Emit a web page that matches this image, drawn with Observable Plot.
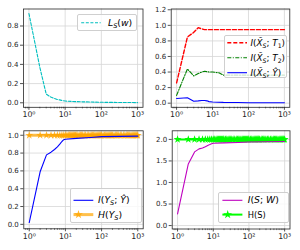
<!DOCTYPE html>
<html><head><meta charset="utf-8">
<script src="https://cdn.jsdelivr.net/npm/d3@7"></script>
<script src="https://cdn.jsdelivr.net/npm/@observablehq/plot@0.6"></script>
<style>
body{margin:0;background:#fff;}
#page{position:relative;width:300px;height:250px;overflow:hidden;font-family:"DejaVu Sans",sans-serif;}
.panel{position:absolute;width:150px;height:125px;}
.leg{position:absolute;box-sizing:border-box;border:0.8px solid #cfcfcf;border-radius:2px;background:rgba(255,255,255,0.8);}
.lt{position:absolute;font-size:9.3px;line-height:10px;white-space:nowrap;color:#000;font-family:"DejaVu Sans",sans-serif;}
.lt sub{font-size:70%;vertical-align:-0.35em;line-height:0}
.lt.plain{font-size:8.3px;}
.lt.small{font-size:8.8px;}
</style></head><body><div id="page"></div>
<script>
// ---- ticks ----
const xTicks = [1, 10, 100, 1000];
const xTickLabels = ["10⁰", "10¹", "10²", "10³"];
const xMinorTicks = [0.8, 0.9, 2, 3, 4, 5, 6, 7, 8, 9, 20, 30, 40, 50, 60, 70, 80, 90, 200, 300, 400, 500, 600, 700, 800, 900];
const yTicksTL = [0, 0.2, 0.4, 0.6, 0.8];
const yTicksTR = [0, 0.2, 0.4, 0.6, 0.8, 1.0, 1.2];
const yTicksBL = [0, 0.2, 0.4, 0.6, 0.8, 1.0];
const yTicksBR = [0, 0.5, 1.0, 1.5, 2.0];

// ---- top-left: L_S(w) ----
const lsX = [1, 2, 3, 4, 5, 6, 7, 8, 10, 15, 20, 30, 50, 100, 200, 500, 1000];
const lsY = [0.93, 0.37, 0.09, 0.06, 0.045, 0.035, 0.03, 0.025, 0.018, 0.014, 0.012, 0.01, 0.008, 0.005, 0.004, 0.003, 0.002];

// ---- top-right ----
const t1X = [1, 2, 3, 4, 5, 6, 7, 8, 10, 20, 50, 100, 1000];
const t1Y = [0.26, 0.85, 0.91, 0.97, 0.955, 0.945, 0.945, 0.945, 0.945, 0.945, 0.945, 0.945, 0.945];
const t2X = [1, 2, 3, 4, 5, 6, 8, 10, 15, 20, 30, 50, 100, 1000];
const t2Y = [0.1, 0.44, 0.35, 0.38, 0.40, 0.41, 0.40, 0.40, 0.39, 0.36, 0.36, 0.36, 0.36, 0.36];
const xyX = [1, 2, 3, 4, 5, 6, 7, 8, 10, 20, 50, 100, 1000];
const xyY = [0.06, 0.07, 0.025, 0.03, 0.035, 0.035, 0.03, 0.02, 0.015, 0.01, 0.008, 0.005, 0.005];

// ---- bottom-left ----
const iyX = [1, 2, 3, 4, 5, 6, 7, 8, 9, 10, 20, 50, 100, 1000];
const iyY = [0.02, 0.59, 0.78, 0.81, 0.84, 0.87, 0.90, 0.93, 0.95, 0.955, 0.965, 0.975, 0.985, 0.99];
const H_YS = 1.0;

// ---- bottom-right ----
const isX = [1, 2, 3, 4, 5, 6, 7, 8, 9, 10, 20, 50, 100, 1000];
const isY = [0.27, 1.43, 1.71, 1.78, 1.80, 1.83, 1.86, 1.88, 1.90, 1.91, 1.92, 1.93, 1.94, 1.95];
const H_S = 2.0;

// epochs where the entropy markers are drawn
const markerEpochs = [1, 2, 3, 4, 5, 6, 7, 8, 9, 10, 11, 12, 13, 14, 15, 16, 17, 18, 19, 20, 22, 24, 26, 28, 30, 33, 36, 40, 44, 48, 52, 56, 60, 65, 70, 75, 80, 85, 90, 95, 100, 110, 120, 130, 140, 150, 160, 170, 180, 190, 200, 220, 240, 260, 280, 300, 330, 360, 400, 440, 480, 520, 560, 600, 650, 700, 750, 800, 850, 900, 950, 1000];

const xDomain = [Math.pow(10, -0.15), Math.pow(10, 3.15)];
const rows = (xs, ys) => xs.map((x, i) => ({x, y: ys[i]}));
const page = d3.select("#page");

function panel(left, top, m, yDomain, yTicks, marks) {
  const svg = Plot.plot({
    width: 150, height: 125,
    marginLeft: m[0], marginRight: m[1], marginTop: m[2], marginBottom: m[3],
    style: {fontFamily: "DejaVu Sans", fontSize: "7px", background: "transparent", color: "#262626", overflow: "visible"},
    x: {type: "log", domain: xDomain},
    y: {domain: yDomain},
    marks: [
      Plot.gridX(xTicks, {stroke: "#d6d6d6", strokeOpacity: 1, strokeWidth: 0.8}),
      Plot.gridY(yTicks, {stroke: "#d6d6d6", strokeOpacity: 1, strokeWidth: 0.8}),
      ...marks,
      Plot.frame({stroke: "#262626", strokeWidth: 0.8}),
      Plot.axisX(xMinorTicks, {tickSize: 1.6, tickFormat: () => "", strokeWidth: 0.6, label: null}),
      Plot.axisX(xTicks, {tickSize: 3, tickPadding: 1.2, fontSize: 7.8, tickFormat: d => xTickLabels[xTicks.indexOf(d)], strokeWidth: 0.8, label: null}),
      Plot.axisY(yTicks, {tickSize: 3, tickPadding: 2, tickFormat: d3.format(".1f"), strokeWidth: 0.8, label: null})
    ]
  });
  page.append("div").attr("class", "panel").style("left", left + "px").style("top", top + "px").node().appendChild(svg);
}

function legend(b, items) {
  const div = page.append("div").attr("class", "leg")
    .style("left", b.x + "px").style("top", b.y + "px").style("width", b.w + "px").style("height", b.h + "px");
  const svg = div.append("svg").attr("width", b.w).attr("height", b.h)
    .style("position", "absolute").style("left", "-0.8px").style("top", "-0.8px").style("overflow", "visible");
  for (const it of items) {
    const yy = it.y - b.y;
    svg.append("line").attr("x1", it.s1 - b.x).attr("x2", it.s2 - b.x).attr("y1", yy).attr("y2", yy)
      .attr("stroke", it.stroke).attr("stroke-width", it.w).attr("stroke-dasharray", it.dash || null)
      .attr("stroke-opacity", it.op || 1);
    if (it.star) svg.append("path").attr("d", d3.symbol(d3.symbolStar, 24)())
      .attr("transform", `translate(${it.starX - b.x},${yy})`).attr("fill", it.star).attr("fill-opacity", it.starOp || 1);
    div.append("div").attr("class", "lt" + (it.cls ? " " + it.cls : "")).style("left", (it.tx - b.x) + "px").style("top", (yy - 5.5) + "px").html(it.html);
  }
}

// Top-left
panel(0, 0, [23, 7.5, 8.5, 18.2], [-0.047, 0.977], yTicksTL, [
  Plot.line(rows(lsX, lsY), {x: "x", y: "y", stroke: "#00bfbf", strokeWidth: 1.1, strokeDasharray: "3,1.6"})
]);
// Top-right
panel(150, 0, [20.7, 10.7, 8.5, 18.2], [-0.053, 1.21], yTicksTR, [
  Plot.line(rows(t1X, t1Y), {x: "x", y: "y", stroke: "#ff0000", strokeWidth: 1.4, strokeDasharray: "4,2"}),
  Plot.line(rows(t2X, t2Y), {x: "x", y: "y", stroke: "#008000", strokeWidth: 1.1, strokeDasharray: "4,1.5,1,1.5"}),
  Plot.line(rows(xyX, xyY), {x: "x", y: "y", stroke: "#0000ff", strokeWidth: 1.1})
]);
// Bottom-left
panel(0, 125, [23.3, 7.3, 5.3, 21.7], [-0.05, 1.05], yTicksBL, [
  Plot.line(rows([1, 1000], [H_YS, H_YS]), {x: "x", y: "y", stroke: "orange", strokeOpacity: 0.7, strokeWidth: 3}),
  Plot.dot(markerEpochs, {x: d => d, y: () => H_YS, symbol: "star", r: 2.5, fill: "orange", fillOpacity: 0.8, stroke: "none"}),
  Plot.line(rows(iyX, iyY), {x: "x", y: "y", stroke: "#0000ff", strokeWidth: 1.1})
]);
// Bottom-right
panel(150, 125, [21.7, 10.5, 5.3, 21.5], [-0.08, 2.2], yTicksBR, [
  Plot.line(rows([1, 1000], [H_S, H_S]), {x: "x", y: "y", stroke: "#00ff00", strokeWidth: 2}),
  Plot.dot(markerEpochs, {x: d => d, y: () => H_S, symbol: "star", r: 2.5, fill: "#00ff00", stroke: "none"}),
  Plot.line(rows(isX, isY), {x: "x", y: "y", stroke: "#bf00bf", strokeWidth: 1.1})
]);

// Legends
legend({x: 77.3, y: 14, w: 60, h: 17}, [
  {y: 22.7, s1: 80.5, s2: 100, stroke: "#00bfbf", w: 1.1, dash: "3,1.6", tx: 107, html: "<i>L</i><sub><i>S</i></sub>(<i>w</i>)"}
]);
legend({x: 224, y: 35, w: 62.7, h: 43}, [
  {y: 42.7, s1: 227.3, s2: 247, stroke: "#ff0000", w: 1.4, dash: "4,2", tx: 249.5, cls: "small", html: "<i>I</i>(<i>X̃</i><sub><i>S</i></sub>; <i>T</i><sub>1</sub>)"},
  {y: 57.7, s1: 227.3, s2: 247, stroke: "#008000", w: 1.1, dash: "4,1.5,1,1.5", tx: 249.5, cls: "small", html: "<i>I</i>(<i>X̃</i><sub><i>S</i></sub>; <i>T</i><sub>2</sub>)"},
  {y: 72.7, s1: 227.3, s2: 247, stroke: "#0000ff", w: 1.1, tx: 249.5, cls: "small", html: "<i>I</i>(<i>X̃</i><sub><i>S</i></sub>; <i>Ŷ</i>)"}
]);
legend({x: 70, y: 187.7, w: 71.7, h: 35.6}, [
  {y: 200, s1: 73.5, s2: 93.3, stroke: "#0000ff", w: 1.1, tx: 97, html: "<i>I</i>(<i>Y</i><sub><i>S</i></sub>; <i>Ŷ</i>)"},
  {y: 214.3, s1: 73.5, s2: 93.3, stroke: "orange", op: 0.7, w: 3, star: "orange", starOp: 0.8, starX: 78.5, tx: 97, html: "<i>H</i>(<i>Y</i><sub><i>S</i></sub>)"}
]);
legend({x: 218.3, y: 191.7, w: 71, h: 31.6}, [
  {y: 200, s1: 221.7, s2: 241.7, stroke: "#bf00bf", w: 1.1, tx: 246.7, html: "<i>I</i>(<i>S</i>; <i>W</i>)"},
  {y: 214.3, s1: 221.7, s2: 241.7, stroke: "#00ff00", w: 2, star: "#00ff00", starX: 227, tx: 246.7, cls: "plain", html: "H(S)"}
]);
</script>
</body></html>
